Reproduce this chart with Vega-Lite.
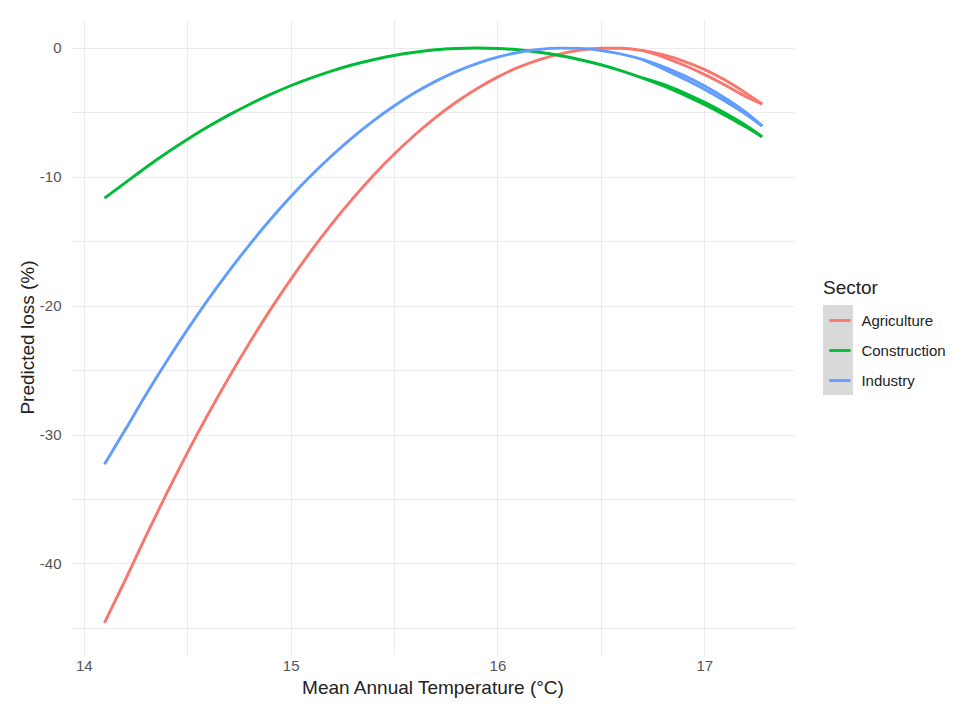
{
  "$schema": "https://vega.github.io/schema/vega-lite/v6.json",
  "width": 723,
  "height": 636,
  "autosize": {"type": "none"},
  "padding": {"left": 71, "top": 19, "right": 162, "bottom": 49},
  "background": "white",
  "config": {
    "font": "Liberation Sans",
    "view": {"stroke": null},
    "axis": {
      "domain": false,
      "ticks": false,
      "grid": true,
      "gridColor": "#EBEBEB",
      "gridWidth": 1,
      "labelFont": "Liberation Sans",
      "labelFontSize": 15,
      "labelColor": "#555555",
      "titleFont": "Liberation Sans",
      "titleFontSize": 19,
      "titleFontWeight": "normal",
      "titleColor": "#222222"
    }
  },
  "datasets": {
    "curves": [
      {"sector": "Agriculture", "seg": "a", "t": 14.1, "loss": -44.6},
      {"sector": "Agriculture", "seg": "a", "t": 14.2, "loss": -41.3},
      {"sector": "Agriculture", "seg": "a", "t": 14.3, "loss": -37.87},
      {"sector": "Agriculture", "seg": "a", "t": 14.4, "loss": -34.58},
      {"sector": "Agriculture", "seg": "a", "t": 14.5, "loss": -31.43},
      {"sector": "Agriculture", "seg": "a", "t": 14.6, "loss": -28.44},
      {"sector": "Agriculture", "seg": "a", "t": 14.7, "loss": -25.6},
      {"sector": "Agriculture", "seg": "a", "t": 14.8, "loss": -22.91},
      {"sector": "Agriculture", "seg": "a", "t": 14.9, "loss": -20.36},
      {"sector": "Agriculture", "seg": "a", "t": 15.0, "loss": -17.97},
      {"sector": "Agriculture", "seg": "a", "t": 15.1, "loss": -15.73},
      {"sector": "Agriculture", "seg": "a", "t": 15.2, "loss": -13.63},
      {"sector": "Agriculture", "seg": "a", "t": 15.3, "loss": -11.69},
      {"sector": "Agriculture", "seg": "a", "t": 15.4, "loss": -9.89},
      {"sector": "Agriculture", "seg": "a", "t": 15.5, "loss": -8.25},
      {"sector": "Agriculture", "seg": "a", "t": 15.6, "loss": -6.75},
      {"sector": "Agriculture", "seg": "a", "t": 15.7, "loss": -5.4},
      {"sector": "Agriculture", "seg": "a", "t": 15.8, "loss": -4.21},
      {"sector": "Agriculture", "seg": "a", "t": 15.9, "loss": -3.16},
      {"sector": "Agriculture", "seg": "a", "t": 16.0, "loss": -2.26},
      {"sector": "Agriculture", "seg": "a", "t": 16.1, "loss": -1.51},
      {"sector": "Agriculture", "seg": "a", "t": 16.2, "loss": -0.92},
      {"sector": "Agriculture", "seg": "a", "t": 16.3, "loss": -0.47},
      {"sector": "Agriculture", "seg": "a", "t": 16.4, "loss": -0.17},
      {"sector": "Agriculture", "seg": "a", "t": 16.5, "loss": -0.02},
      {"sector": "Agriculture", "seg": "a", "t": 16.6, "loss": -0.02},
      {"sector": "Agriculture", "seg": "a", "t": 16.7, "loss": -0.19},
      {"sector": "Agriculture", "seg": "a", "t": 16.8, "loss": -0.52},
      {"sector": "Agriculture", "seg": "a", "t": 16.9, "loss": -1.01},
      {"sector": "Agriculture", "seg": "a", "t": 17.0, "loss": -1.66},
      {"sector": "Agriculture", "seg": "a", "t": 17.1, "loss": -2.49},
      {"sector": "Agriculture", "seg": "a", "t": 17.2, "loss": -3.48},
      {"sector": "Agriculture", "seg": "a", "t": 17.28, "loss": -4.35},
      {"sector": "Agriculture", "seg": "b", "t": 16.7, "loss": -0.19},
      {"sector": "Agriculture", "seg": "b", "t": 16.8, "loss": -0.68},
      {"sector": "Agriculture", "seg": "b", "t": 16.9, "loss": -1.32},
      {"sector": "Agriculture", "seg": "b", "t": 17.0, "loss": -2.05},
      {"sector": "Agriculture", "seg": "b", "t": 17.1, "loss": -2.87},
      {"sector": "Agriculture", "seg": "b", "t": 17.2, "loss": -3.76},
      {"sector": "Agriculture", "seg": "b", "t": 17.28, "loss": -4.35},
      {"sector": "Construction", "seg": "a", "t": 14.1, "loss": -11.65},
      {"sector": "Construction", "seg": "a", "t": 14.2, "loss": -10.46},
      {"sector": "Construction", "seg": "a", "t": 14.3, "loss": -9.27},
      {"sector": "Construction", "seg": "a", "t": 14.4, "loss": -8.15},
      {"sector": "Construction", "seg": "a", "t": 14.5, "loss": -7.1},
      {"sector": "Construction", "seg": "a", "t": 14.6, "loss": -6.12},
      {"sector": "Construction", "seg": "a", "t": 14.7, "loss": -5.21},
      {"sector": "Construction", "seg": "a", "t": 14.8, "loss": -4.38},
      {"sector": "Construction", "seg": "a", "t": 14.9, "loss": -3.62},
      {"sector": "Construction", "seg": "a", "t": 15.0, "loss": -2.93},
      {"sector": "Construction", "seg": "a", "t": 15.1, "loss": -2.32},
      {"sector": "Construction", "seg": "a", "t": 15.2, "loss": -1.77},
      {"sector": "Construction", "seg": "a", "t": 15.3, "loss": -1.3},
      {"sector": "Construction", "seg": "a", "t": 15.4, "loss": -0.91},
      {"sector": "Construction", "seg": "a", "t": 15.5, "loss": -0.58},
      {"sector": "Construction", "seg": "a", "t": 15.6, "loss": -0.33},
      {"sector": "Construction", "seg": "a", "t": 15.7, "loss": -0.14},
      {"sector": "Construction", "seg": "a", "t": 15.8, "loss": -0.04},
      {"sector": "Construction", "seg": "a", "t": 15.9, "loss": 0},
      {"sector": "Construction", "seg": "a", "t": 16.0, "loss": -0.04},
      {"sector": "Construction", "seg": "a", "t": 16.1, "loss": -0.14},
      {"sector": "Construction", "seg": "a", "t": 16.2, "loss": -0.33},
      {"sector": "Construction", "seg": "a", "t": 16.3, "loss": -0.58},
      {"sector": "Construction", "seg": "a", "t": 16.4, "loss": -0.91},
      {"sector": "Construction", "seg": "a", "t": 16.5, "loss": -1.3},
      {"sector": "Construction", "seg": "a", "t": 16.6, "loss": -1.77},
      {"sector": "Construction", "seg": "a", "t": 16.7, "loss": -2.32},
      {"sector": "Construction", "seg": "a", "t": 16.8, "loss": -2.93},
      {"sector": "Construction", "seg": "a", "t": 16.9, "loss": -3.62},
      {"sector": "Construction", "seg": "a", "t": 17.0, "loss": -4.38},
      {"sector": "Construction", "seg": "a", "t": 17.1, "loss": -5.21},
      {"sector": "Construction", "seg": "a", "t": 17.2, "loss": -6.12},
      {"sector": "Construction", "seg": "a", "t": 17.28, "loss": -6.89},
      {"sector": "Construction", "seg": "b", "t": 16.7, "loss": -2.32},
      {"sector": "Construction", "seg": "b", "t": 16.8, "loss": -2.8},
      {"sector": "Construction", "seg": "b", "t": 16.9, "loss": -3.45},
      {"sector": "Construction", "seg": "b", "t": 17.0, "loss": -4.2},
      {"sector": "Construction", "seg": "b", "t": 17.1, "loss": -5.05},
      {"sector": "Construction", "seg": "b", "t": 17.2, "loss": -6.0},
      {"sector": "Construction", "seg": "b", "t": 17.28, "loss": -6.89},
      {"sector": "Industry", "seg": "a", "t": 14.1, "loss": -32.3},
      {"sector": "Industry", "seg": "a", "t": 14.2, "loss": -29.63},
      {"sector": "Industry", "seg": "a", "t": 14.3, "loss": -26.91},
      {"sector": "Industry", "seg": "a", "t": 14.4, "loss": -24.32},
      {"sector": "Industry", "seg": "a", "t": 14.5, "loss": -21.87},
      {"sector": "Industry", "seg": "a", "t": 14.6, "loss": -19.54},
      {"sector": "Industry", "seg": "a", "t": 14.7, "loss": -17.35},
      {"sector": "Industry", "seg": "a", "t": 14.8, "loss": -15.29},
      {"sector": "Industry", "seg": "a", "t": 14.9, "loss": -13.35},
      {"sector": "Industry", "seg": "a", "t": 15.0, "loss": -11.55},
      {"sector": "Industry", "seg": "a", "t": 15.1, "loss": -9.88},
      {"sector": "Industry", "seg": "a", "t": 15.2, "loss": -8.34},
      {"sector": "Industry", "seg": "a", "t": 15.3, "loss": -6.93},
      {"sector": "Industry", "seg": "a", "t": 15.4, "loss": -5.65},
      {"sector": "Industry", "seg": "a", "t": 15.5, "loss": -4.5},
      {"sector": "Industry", "seg": "a", "t": 15.6, "loss": -3.48},
      {"sector": "Industry", "seg": "a", "t": 15.7, "loss": -2.59},
      {"sector": "Industry", "seg": "a", "t": 15.8, "loss": -1.83},
      {"sector": "Industry", "seg": "a", "t": 15.9, "loss": -1.21},
      {"sector": "Industry", "seg": "a", "t": 16.0, "loss": -0.71},
      {"sector": "Industry", "seg": "a", "t": 16.1, "loss": -0.35},
      {"sector": "Industry", "seg": "a", "t": 16.2, "loss": -0.11},
      {"sector": "Industry", "seg": "a", "t": 16.3, "loss": -0.01},
      {"sector": "Industry", "seg": "a", "t": 16.4, "loss": -0.03},
      {"sector": "Industry", "seg": "a", "t": 16.5, "loss": -0.19},
      {"sector": "Industry", "seg": "a", "t": 16.6, "loss": -0.48},
      {"sector": "Industry", "seg": "a", "t": 16.7, "loss": -0.89},
      {"sector": "Industry", "seg": "a", "t": 16.8, "loss": -1.44},
      {"sector": "Industry", "seg": "a", "t": 16.9, "loss": -2.12},
      {"sector": "Industry", "seg": "a", "t": 17.0, "loss": -2.93},
      {"sector": "Industry", "seg": "a", "t": 17.1, "loss": -3.88},
      {"sector": "Industry", "seg": "a", "t": 17.2, "loss": -4.98},
      {"sector": "Industry", "seg": "a", "t": 17.28, "loss": -6.05},
      {"sector": "Industry", "seg": "b", "t": 16.7, "loss": -0.89},
      {"sector": "Industry", "seg": "b", "t": 16.8, "loss": -1.6},
      {"sector": "Industry", "seg": "b", "t": 16.9, "loss": -2.38},
      {"sector": "Industry", "seg": "b", "t": 17.0, "loss": -3.2},
      {"sector": "Industry", "seg": "b", "t": 17.1, "loss": -4.12},
      {"sector": "Industry", "seg": "b", "t": 17.2, "loss": -5.12},
      {"sector": "Industry", "seg": "b", "t": 17.28, "loss": -6.05}
    ],
    "keys": [{"k": "1"}, {"k": "2"}, {"k": "3"}]
  },
  "layer": [
    {
      "data": {"name": "keys"},
      "mark": {"type": "point", "opacity": 0, "filled": true},
      "encoding": {
        "color": {
          "field": "k",
          "type": "nominal",
          "scale": {"range": ["#D9D9D9", "#D9D9D9", "#D9D9D9"]},
          "legend": {
            "orient": "none",
            "legendX": 752,
            "legendY": 260,
            "padding": 0,
            "title": "Sector",
            "titleFont": "Liberation Sans",
            "titleFontSize": 19,
            "titleFontWeight": "normal",
            "titleOpacity": 0,
            "titlePadding": 7,
            "symbolType": "square",
            "symbolSize": 900,
            "symbolFillColor": "#D9D9D9",
            "symbolStrokeColor": "#D9D9D9",
            "symbolStrokeWidth": 0,
            "symbolOpacity": 1,
            "labelExpr": "''",
            "labelFontSize": 15,
            "rowPadding": 0
          }
        }
      }
    },
    {
      "data": {"name": "curves"},
      "mark": {"type": "line", "strokeWidth": 2.9, "interpolate": "monotone", "clip": true},
      "encoding": {
        "x": {
          "field": "t",
          "type": "quantitative",
          "scale": {"domain": [13.938, 17.434], "nice": false, "zero": false},
          "axis": {
            "title": "Mean Annual Temperature (°C)",
            "values": [14, 14.5, 15, 15.5, 16, 16.5, 17],
            "labelExpr": "datum.value % 1 == 0 ? '' + datum.value : ''",
            "labelPadding": 3,
            "titlePadding": 5
          }
        },
        "y": {
          "field": "loss",
          "type": "quantitative",
          "scale": {"domain": [-47.1, 2.25], "nice": false, "zero": false},
          "axis": {
            "title": "Predicted loss (%)",
            "values": [-45, -40, -35, -30, -25, -20, -15, -10, -5, 0],
            "labelExpr": "datum.value % 10 == 0 ? '' + datum.value : ''",
            "labelPadding": 10,
            "titlePadding": 2
          }
        },
        "stroke": {
          "field": "sector",
          "type": "nominal",
          "scale": {
            "domain": ["Agriculture", "Construction", "Industry"],
            "range": ["#F8766D", "#00BA38", "#619CFF"]
          },
          "legend": {
            "orient": "none",
            "legendX": 752,
            "legendY": 260,
            "padding": 0,
            "title": "Sector",
            "titleFont": "Liberation Sans",
            "titleFontSize": 19,
            "titleFontWeight": "normal",
            "titleColor": "#222222",
            "titlePadding": 10,
            "symbolType": "stroke",
            "symbolSize": 450,
            "symbolStrokeWidth": 2.8,
            "symbolOffset": 4.4,
            "labelFont": "Liberation Sans",
            "labelFontSize": 15,
            "labelColor": "#222222",
            "labelOffset": 9,
            "rowPadding": 9
          }
        },
        "detail": {"field": "seg", "type": "nominal"}
      }
    }
  ]
}
